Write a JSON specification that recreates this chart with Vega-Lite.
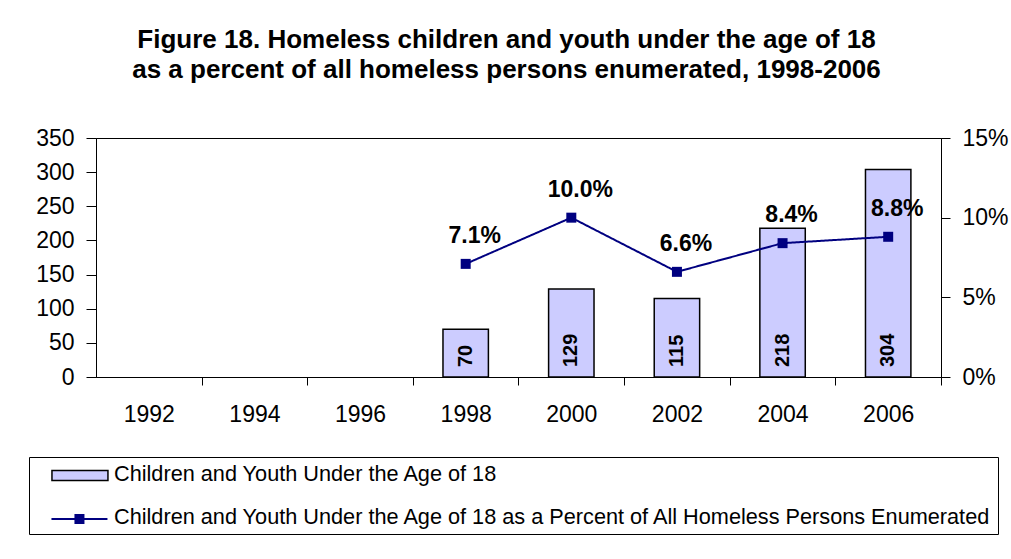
{
  "$schema": "https://vega.github.io/schema/vega-lite/v6.json",
  "width": 845,
  "height": 239,
  "autosize": {"type": "none"},
  "padding": {"left": 96, "top": 138, "right": 70, "bottom": 182},
  "background": "white",
  "title": {
    "text": ["Figure 18.  Homeless children and youth under the age of 18", "as a percent of all homeless persons enumerated, 1998-2006"],
    "font": "Liberation Sans",
    "fontSize": 26,
    "fontWeight": "bold",
    "color": "black",
    "lineHeight": 30,
    "anchor": "middle",
    "dx": -12,
    "offset": 44
  },
  "data": {
    "values": [
      {"year": "1998", "count": 70, "pct": 0.071},
      {"year": "2000", "count": 129, "pct": 0.100},
      {"year": "2002", "count": 115, "pct": 0.066},
      {"year": "2004", "count": 218, "pct": 0.084},
      {"year": "2006", "count": 304, "pct": 0.088}
    ]
  },
  "config": {
    "view": {"stroke": "black", "strokeWidth": 1},
    "axis": {
      "labelFont": "Liberation Sans",
      "labelFontSize": 23,
      "labelColor": "black",
      "domainColor": "black",
      "tickColor": "black",
      "grid": false,
      "labelOverlap": false,
      "labelFlush": false,
      "labelBound": false
    },
    "legend": {"labelFont": "Liberation Sans", "labelColor": "black", "labelLimit": 1200, "symbolSize": 484, "title": null}
  },
  "encoding": {
    "x": {
      "field": "year",
      "type": "ordinal",
      "scale": {"domain": ["1992", "1994", "1996", "1998", "2000", "2002", "2004", "2006"], "paddingInner": 0.57, "paddingOuter": 0.285},
      "axis": {"tickOffset": 52.8, "labelOffset": -52.8, "tickSize": 8, "labelPadding": 18, "labelAngle": 0, "title": null}
    }
  },
  "layer": [
    {
      "layer": [
        {
          "mark": {"type": "bar", "stroke": "black", "strokeWidth": 1.5},
          "encoding": {
            "y": {
              "field": "count",
              "type": "quantitative",
              "scale": {"domain": [0, 350], "nice": false},
              "axis": {"values": [0, 50, 100, 150, 200, 250, 300, 350], "tickSize": 10, "labelPadding": 12, "title": null}
            },
            "color": {
              "datum": "Children and Youth Under the Age of 18",
              "type": "nominal",
              "scale": {
                "domain": ["Children and Youth Under the Age of 18", "Children and Youth Under the Age of 18 as a Percent of All Homeless Persons Enumerated"],
                "range": ["#ccccff", "#000080"]
              },
              "legend": {
                "orient": "none",
                "legendX": -67,
                "legendY": 319,
                "title": null,
                "direction": "vertical",
                "strokeColor": "black",
                "padding": 5,
                "labelOffset": 56,
                "rowPadding": 19,
                "labelFontSize": 21.7,
                "symbolOpacity": 0,
                "symbolType": "M0,0L0,0",
                "zindex": 0
              }
            },
            "stroke": {
              "datum": "Children and Youth Under the Age of 18",
              "type": "nominal",
              "scale": {"domain": ["Children and Youth Under the Age of 18"], "range": ["black"]},
              "legend": {
                "orient": "none",
                "legendX": -60,
                "legendY": 325.5,
                "title": null,
                "direction": "vertical",
                "padding": 0,
                "symbolType": "M0.36,-0.45H5.45V0.45H0.36Z",
                "symbolFillColor": "#ccccff",
                "symbolStrokeWidth": 1.5,
                "symbolOpacity": 1,
                "labelExpr": "''",
                "labelFontSize": 1,
                "labelOffset": 0,
                "zindex": 1
              }
            }
          }
        },
        {
          "mark": {"type": "text", "angle": 270, "align": "left", "baseline": "middle", "dx": 10, "font": "Liberation Sans", "fontSize": 20, "fontWeight": "bold", "color": "black"},
          "encoding": {
            "y": {"datum": 0, "type": "quantitative", "axis": {"values": [0, 50, 100, 150, 200, 250, 300, 350], "tickSize": 10, "labelPadding": 12, "title": null}},
            "text": {"field": "count", "type": "quantitative"}
          }
        }
      ]
    },
    {
      "layer": [
        {
          "mark": {"type": "line", "strokeWidth": 2, "point": {"shape": "square", "size": 100, "filled": true}},
          "encoding": {
            "y": {
              "field": "pct",
              "type": "quantitative",
              "scale": {"domain": [0, 0.15], "nice": false},
              "axis": {"orient": "right", "format": ".0%", "values": [0, 0.05, 0.1, 0.15], "tickSize": 9, "labelPadding": 12, "title": null}
            },
            "color": {"datum": "Children and Youth Under the Age of 18 as a Percent of All Homeless Persons Enumerated", "type": "nominal", "legend": null},
            "strokeDash": {
              "datum": "Children and Youth Under the Age of 18 as a Percent of All Homeless Persons Enumerated",
              "type": "nominal",
              "scale": {"domain": ["Children and Youth Under the Age of 18 as a Percent of All Homeless Persons Enumerated"], "range": [[1, 0]]},
              "legend": {
                "orient": "none",
                "legendX": -60,
                "legendY": 369.5,
                "title": null,
                "direction": "vertical",
                "padding": 0,
                "symbolType": "M0.36,-0.09H5.45V0.09H0.36Z M2.45,-0.45H3.36V0.45H2.45Z",
                "symbolFillColor": "#000080",
                "symbolStrokeColor": "#000080",
                "symbolStrokeWidth": 0.5,
                "symbolOpacity": 1,
                "labelExpr": "''",
                "labelFontSize": 1,
                "labelOffset": 0,
                "zindex": 1
              }
            }
          }
        },
        {
          "mark": {"type": "text", "align": "center", "baseline": "alphabetic", "dx": 9, "dy": -21, "font": "Liberation Sans", "fontSize": 23, "fontWeight": "bold", "color": "black"},
          "encoding": {
            "y": {"field": "pct", "type": "quantitative"},
            "text": {"field": "pct", "type": "quantitative", "format": ".1%"}
          }
        }
      ]
    }
  ],
  "resolve": {"scale": {"y": "independent"}}
}
